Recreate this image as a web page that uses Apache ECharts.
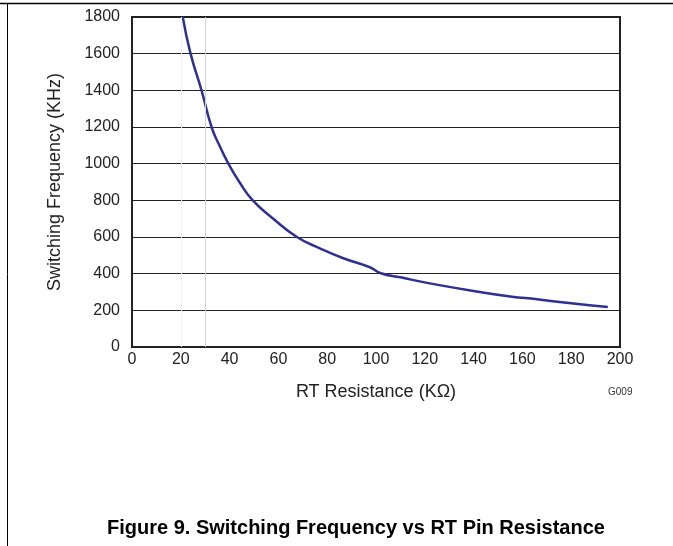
<!DOCTYPE html>
<html>
<head>
<meta charset="utf-8">
<script src="https://cdn.jsdelivr.net/npm/echarts@6/dist/echarts.min.js"></script>
<style>html,body{margin:0;padding:0;background:#fff}#c{width:673px;height:546px}</style>
</head>
<body>
<div id="c"></div>
<script>
// RT resistance (kOhm) and switching frequency (kHz)
var rtValues = [20.8, 24, 28.5, 32.6, 35.8, 39.5, 44, 49.5, 57.9, 67.6, 77, 86.6, 97.5, 102, 110, 122, 142.6, 155, 166, 180, 195];
var freqValues = [1800, 1600, 1400, 1200, 1100, 1000, 900, 800, 700, 600, 538, 484, 435, 402, 380, 347, 300, 276, 260, 238, 218];
var xTicks = [0, 20, 40, 60, 80, 100, 120, 140, 160, 180, 200];
var yTicks = [0, 200, 400, 600, 800, 1000, 1200, 1400, 1600, 1800];
var faintLines = [20, 30];

var pts = rtValues.map(function (r, i) { return [r, freqValues[i]]; });
var font = 'Liberation Sans, Arial, sans-serif';
var chart = echarts.init(document.getElementById('c'));
chart.setOption({
  animation: false,
  grid: { left: 132, top: 17, right: 53, bottom: 199, show: true, borderColor: '#222', borderWidth: 2, backgroundColor: 'transparent' },
  xAxis: {
    type: 'value', min: xTicks[0], max: xTicks[xTicks.length - 1], interval: 20,
    name: 'RT Resistance (KΩ)', nameLocation: 'middle', nameGap: 36,
    nameTextStyle: { fontFamily: font, fontSize: 18, color: '#222' },
    axisLine: { show: true, lineStyle: { color: '#222', width: 2 } },
    axisTick: { show: false },
    axisLabel: { fontFamily: font, fontSize: 16, color: '#222', margin: 5, formatter: function (v) { return String(v); } },
    splitLine: { show: false }
  },
  yAxis: {
    type: 'value', min: yTicks[0], max: yTicks[yTicks.length - 1], interval: 200,
    name: 'Switching Frequency (KHz)', nameLocation: 'middle', nameGap: 68,
    nameTextStyle: { fontFamily: font, fontSize: 18, color: '#222' },
    axisLine: { show: true, lineStyle: { color: '#222', width: 2 } },
    axisTick: { show: false },
    axisLabel: { fontFamily: font, fontSize: 16, color: '#222', margin: 12, formatter: function (v) { return String(v); } },
    splitLine: { show: true, lineStyle: { color: '#222', width: 1 } }
  },
  series: [{
    type: 'line', data: pts, smooth: 0.5, showSymbol: false,
    lineStyle: { color: '#2e3192', width: 2.5 },
    markLine: {
      silent: true, symbol: 'none', label: { show: false },
      data: [
        { xAxis: faintLines[0], lineStyle: { color: '#f0f0f0', width: 1, type: 'solid' } },
        { xAxis: faintLines[1], lineStyle: { color: '#d0d0d0', width: 1, type: 'solid' } }
      ]
    },
    z: 3
  }],
  graphic: [
    { type: 'line', shape: { x1: 0, y1: 3.5, x2: 673, y2: 3.5 }, style: { stroke: '#000', lineWidth: 1.5 } },
    { type: 'line', shape: { x1: 7.5, y1: 3, x2: 7.5, y2: 546 }, style: { stroke: '#000', lineWidth: 1 } },
    { type: 'text', left: 608, top: 387, style: { text: 'G009', fontFamily: font, fontSize: 10, fill: '#333' } },
    { type: 'text', left: 107, top: 518, style: { text: 'Figure 9. Switching Frequency vs RT Pin Resistance', fontFamily: font, fontSize: 20, fontWeight: 'bold', fill: '#000' } }
  ]
});
</script>
</body>
</html>
